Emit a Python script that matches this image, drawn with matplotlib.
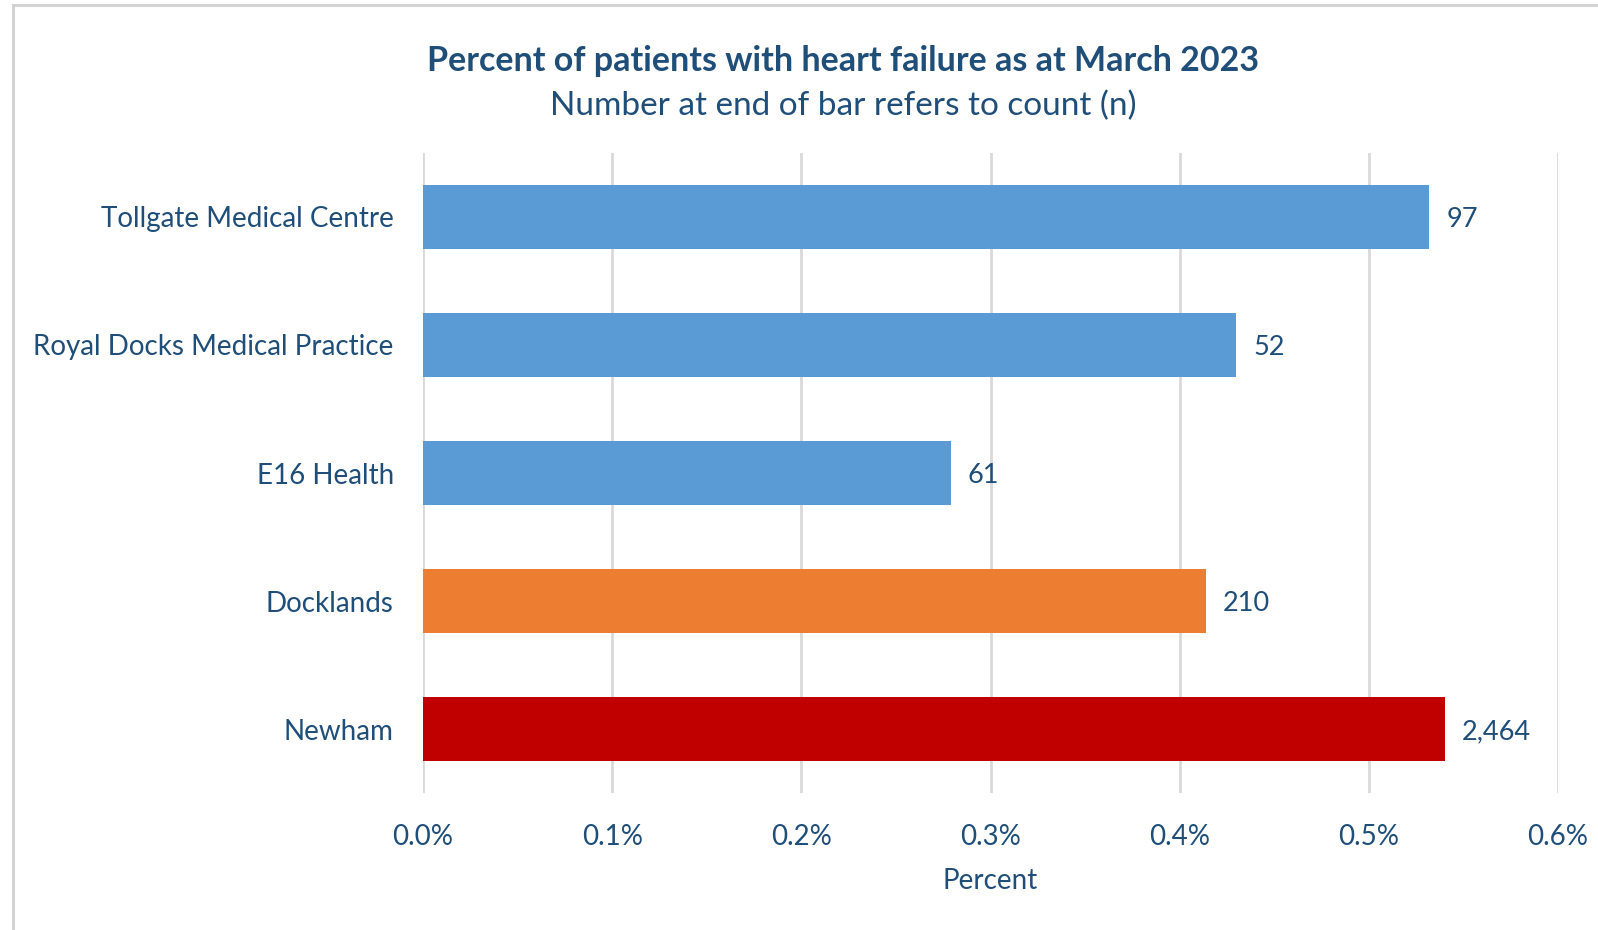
import matplotlib.pyplot as plt
from matplotlib.patches import Rectangle
from matplotlib.ticker import FuncFormatter

practices = ["Tollgate Medical Centre", "Royal Docks Medical Practice", "E16 Health", "Docklands", "Newham"]
percent = [0.532, 0.430, 0.279, 0.414, 0.540]
counts = ["97", "52", "61", "210", "2,464"]
bar_colors = ["#5B9BD5", "#5B9BD5", "#5B9BD5", "#ED7D31", "#C00000"]

txt = "#1F4E79"
plt.rcParams['font.family'] = ['Lato', 'DejaVu Sans']

W, H = 1598, 930
fig = plt.figure(figsize=(W / 100, H / 100), dpi=100)
ax = fig.add_axes([423 / W, 1 - 793 / H, (1558 - 423) / W, (793 - 153) / H])

# border of the chart area
fig.patches.append(Rectangle((13 / W, -0.1), 1.2, (1 - 5 / H) + 0.1, transform=fig.transFigure,
                             fill=False, edgecolor="#D0D0D0", linewidth=2))

y = range(len(practices))
ax.barh(y, percent, height=0.5, color=bar_colors, zorder=3)
for i, (v, c) in enumerate(zip(percent, counts)):
    ax.text(v + 0.009, i, c, va="center_baseline", ha="left", fontsize=19.5, color=txt)

ax.set_ylim(len(practices) - 0.5, -0.5)
ax.set_xlim(0, 0.6)
ax.set_yticks(list(y))
ax.set_yticklabels(practices, fontsize=20, color=txt, va="center_baseline")
ax.set_xticks([0, 0.1, 0.2, 0.3, 0.4, 0.5, 0.6])
ax.xaxis.set_major_formatter(FuncFormatter(lambda v, p: f"{v:.1f}%"))
ax.tick_params(axis="x", labelsize=20, labelcolor=txt, length=0, pad=22)
ax.tick_params(axis="y", length=0, pad=21)
ax.grid(axis="x", color="#D9D9D9", linewidth=2, zorder=0)
for s in ax.spines.values():
    s.set_visible(False)
ax.set_xlabel("Percent", fontsize=20, color=txt, labelpad=13.5)

fig.text(843 / W, 1 - 61 / H, "Percent of patients with heart failure as at March 2023",
         ha="center", va="center", fontsize=24.5, fontweight="bold", color=txt)
fig.text(843 / W, 1 - 106 / H, "Number at end of bar refers to count (n)",
         ha="center", va="center", fontsize=24, color=txt)

fig.savefig("out.png", dpi=100, facecolor="white")
